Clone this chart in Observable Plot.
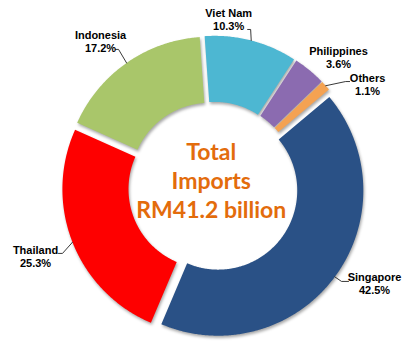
<!DOCTYPE html>
<html>
<head>
<meta charset="utf-8">
<script src="https://cdn.jsdelivr.net/npm/d3@7"></script>
<script src="https://cdn.jsdelivr.net/npm/@observablehq/plot@0.6"></script>
<style>
  html, body { margin: 0; padding: 0; background: #ffffff; }
  #chart svg { display: block; background: #ffffff; }
</style>
</head>
<body>
<div id="chart"></div>
<script>
// ---- Data ----
const categories = ["Singapore", "Thailand", "Indonesia", "Viet Nam", "Philippines", "Others"];
const shares = [42.5, 25.3, 17.2, 10.3, 3.6, 1.1];
const totalLabel = ["Total", "Imports", "RM41.2 billion"];

// ---- Style / layout ----
const colors = ["#2a5186", "#fe0000", "#a9c66a", "#4db7d2", "#8b6bb0", "#f4a252"];
const W = 420, H = 350;
const pxPerUnit = 145.25;           // outer radius in pixels
const cx = 212.75, cy = 186.4;      // centre of ring in pixels
const innerR = 0.545;               // inner radius (unit outer radius)
const explode = 6 / pxPerUnit;      // slice explosion
const startDeg = 50;                // first slice start angle (clockwise from 12 o'clock)
// label placement relative to slice mid-angle: [angle delta, radius]
const labelPlace = [[-5.6, 1.294], [0.1, 1.314], [-2.8, 1.267], [-9.3, 1.161], [4.5, 1.240], [8.3, 1.277]];
// leader elbow / tail offsets from label (pixels); null = no leader
const leaderPx = [[[-33, -2], [-26, -2]], [[27, -3], [23, -3]], [[18, 8], [15, 8]], [[22, 10.5], [19, 10.5]], null, [[-22, -2.5], [-18, -2.5]]];

const rad = d => d * Math.PI / 180;
const pt = (deg, r) => [Math.sin(rad(deg)) * r, Math.cos(rad(deg)) * r];

const pie = d3.pie().sort(null).startAngle(rad(startDeg)).endAngle(rad(startDeg + 360))(shares);

const slicePts = [];
const labels = [];
const leaders = [];
pie.forEach((p, i) => {
  const a0 = p.startAngle * 180 / Math.PI, a1 = p.endAngle * 180 / Math.PI;
  const mid = (a0 + a1) / 2;
  const [ox, oy] = pt(mid, explode);
  const n = Math.max(2, Math.ceil((a1 - a0) / 0.5));
  for (let k = 0; k <= n; k++) {
    const [x, y] = pt(a0 + (a1 - a0) * k / n, 1);
    slicePts.push({name: categories[i], x: x + ox, y: y + oy});
  }
  for (let k = n; k >= 0; k--) {
    const [x, y] = pt(a0 + (a1 - a0) * k / n, innerR);
    slicePts.push({name: categories[i], x: x + ox, y: y + oy});
  }
  const [lx, ly] = pt(mid + labelPlace[i][0], labelPlace[i][1]);
  labels.push({name: categories[i], x: lx, y: ly, text: `${categories[i]}\n${shares[i].toFixed(1)}%`});
  if (leaderPx[i]) {
    const [sx, sy] = pt(mid, 1 + explode);
    leaders.push({name: categories[i], x: sx, y: sy});
    leaderPx[i].forEach(([dx, dy]) => leaders.push({name: categories[i], x: lx + dx / pxPerUnit, y: ly - dy / pxPerUnit}));
  }
});

const chart = Plot.plot({
  width: W, height: H, margin: 0,
  x: {domain: [-cx / pxPerUnit, (W - cx) / pxPerUnit], axis: null},
  y: {domain: [-(H - cy) / pxPerUnit, cy / pxPerUnit], axis: null},
  color: {domain: categories, range: colors},
  marks: [
    Plot.line(slicePts, {x: "x", y: "y", z: "name", fill: "name", stroke: "none", curve: "linear"}),
    Plot.line(leaders, {x: "x", y: "y", z: "name", stroke: "#222", strokeWidth: 0.9}),
    Plot.text(labels, {x: "x", y: "y", text: "text", fontFamily: "Liberation Sans, Arial, sans-serif", fontWeight: "bold", fontSize: 11, lineHeight: 1.18, fill: "#000"}),
    Plot.text([totalLabel.join("\n")], {x: 0, y: 0, text: d => d, dx: -2, dy: -7, fontFamily: "Lato, sans-serif", fontWeight: "bold", fontSize: 23, lineHeight: 1.27, fill: "#e36c0c"})
  ]
});

d3.select(chart).selectAll("g[aria-label='line']").filter((d, i) => i === 0)
  .selectAll("path").style("filter", "drop-shadow(1.5px 2.5px 1.5px rgba(0,0,0,0.35))");

document.getElementById("chart").appendChild(chart);
</script>
</body>
</html>
